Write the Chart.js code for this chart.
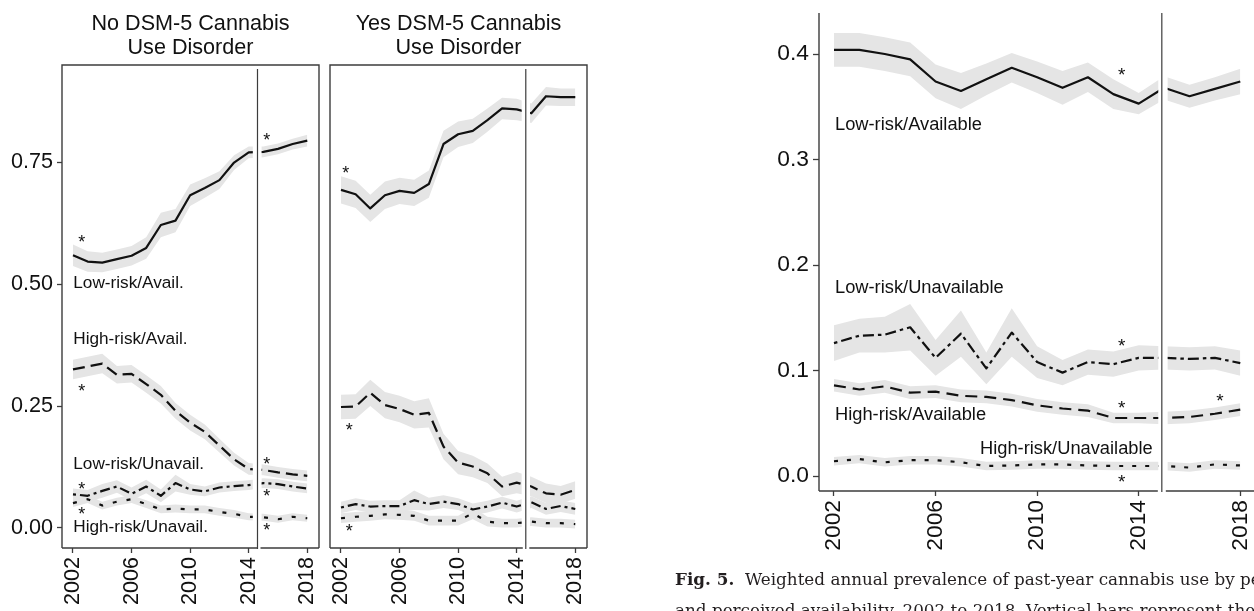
<!DOCTYPE html>
<html>
<head>
<meta charset="utf-8">
<script src="https://cdn.jsdelivr.net/npm/chart.js@4.4.1/dist/chart.umd.min.js"></script>
<style>
  html, body { margin: 0; padding: 0; background: #fff; overflow: hidden; width: 1254px; height: 611px; }
  canvas { position: absolute; top: 0; }
  .cap {
    position: absolute; left: 675px;
    font-family: "DejaVu Serif", "Liberation Serif", serif;
    font-size: 16.8px; line-height: 20px; color: #231f20; white-space: nowrap;
  }
</style>
</head>
<body>
<canvas id="noCud" width="325" height="611" style="left:0px"></canvas>
<canvas id="yesCud" width="275" height="611" style="left:325px"></canvas>
<canvas id="allUsers" width="554" height="611" style="left:700px"></canvas>
<div class="cap" style="top:569px"><b>Fig. 5.</b>&nbsp; Weighted annual prevalence of past-year cannabis use by perceived risk</div>
<div class="cap" style="top:600px">and perceived availability, 2002 to 2018. Vertical bars represent the</div>
<script>
// Survey years and axis ticks
const years = [2002, 2003, 2004, 2005, 2006, 2007, 2008, 2009, 2010, 2011, 2012, 2013, 2014, 2015, 2016, 2017, 2018];
const xTicks = [2002, 2006, 2010, 2014, 2018];
const yTicksCud = [0, 0.25, 0.5, 0.75];
const yTicksAll = [0, 0.1, 0.2, 0.3, 0.4];

// Past-year users without DSM-5 cannabis use disorder (prevalence and 95% margin)
const noCudLowAvail      = [0.559, 0.546, 0.544, 0.551, 0.558, 0.574, 0.621, 0.630, 0.682, 0.697, 0.713, 0.749, 0.770, 0.771, 0.777, 0.787, 0.794];
const noCudLowAvailMoe   = [0.022, 0.021, 0.020, 0.020, 0.020, 0.022, 0.025, 0.024, 0.022, 0.020, 0.018, 0.015, 0.012, 0.011, 0.011, 0.011, 0.012];
const noCudHighAvail     = [0.325, 0.331, 0.337, 0.314, 0.316, 0.295, 0.273, 0.240, 0.216, 0.197, 0.169, 0.141, 0.121, 0.119, 0.114, 0.110, 0.107];
const noCudHighAvailMoe  = [0.020, 0.020, 0.020, 0.018, 0.018, 0.018, 0.018, 0.016, 0.016, 0.015, 0.014, 0.013, 0.012, 0.011, 0.011, 0.011, 0.011];
const noCudLowUnavail    = [0.069, 0.066, 0.076, 0.085, 0.070, 0.085, 0.066, 0.092, 0.079, 0.075, 0.083, 0.086, 0.088, 0.092, 0.090, 0.085, 0.081];
const noCudLowUnavailMoe = [0.012, 0.012, 0.014, 0.013, 0.013, 0.014, 0.013, 0.017, 0.011, 0.010, 0.010, 0.010, 0.010, 0.010, 0.010, 0.010, 0.010];
const noCudHighUnavail   = [0.051, 0.059, 0.046, 0.054, 0.059, 0.049, 0.038, 0.040, 0.038, 0.038, 0.033, 0.029, 0.023, 0.022, 0.018, 0.023, 0.020];
const noCudHighUnavailMoe= [0.008, 0.008, 0.008, 0.008, 0.008, 0.008, 0.008, 0.008, 0.008, 0.008, 0.008, 0.008, 0.007, 0.007, 0.007, 0.007, 0.007];

// Past-year users with DSM-5 cannabis use disorder
const yesCudLowAvail      = [0.693, 0.684, 0.655, 0.682, 0.691, 0.687, 0.705, 0.787, 0.807, 0.814, 0.836, 0.860, 0.858, 0.850, 0.885, 0.883, 0.883];
const yesCudLowAvailMoe   = [0.028, 0.028, 0.028, 0.028, 0.027, 0.027, 0.028, 0.027, 0.026, 0.025, 0.024, 0.022, 0.022, 0.020, 0.019, 0.018, 0.018];
const yesCudHighAvail     = [0.248, 0.249, 0.277, 0.252, 0.244, 0.232, 0.236, 0.167, 0.134, 0.126, 0.112, 0.085, 0.093, 0.085, 0.071, 0.068, 0.078];
const yesCudHighAvailMoe  = [0.025, 0.025, 0.027, 0.027, 0.027, 0.028, 0.030, 0.026, 0.024, 0.022, 0.020, 0.020, 0.022, 0.020, 0.020, 0.018, 0.018];
const yesCudLowUnavail    = [0.042, 0.049, 0.044, 0.045, 0.045, 0.057, 0.049, 0.054, 0.049, 0.038, 0.044, 0.052, 0.044, 0.053, 0.039, 0.045, 0.039];
const yesCudLowUnavailMoe = [0.012, 0.012, 0.012, 0.012, 0.012, 0.020, 0.013, 0.013, 0.012, 0.012, 0.012, 0.012, 0.012, 0.012, 0.012, 0.012, 0.012];
const yesCudHighUnavail   = [0.020, 0.023, 0.025, 0.028, 0.027, 0.025, 0.015, 0.015, 0.015, 0.030, 0.013, 0.010, 0.010, 0.013, 0.010, 0.010, 0.008];
const yesCudHighUnavailMoe= [0.010, 0.010, 0.010, 0.010, 0.010, 0.010, 0.010, 0.010, 0.010, 0.012, 0.010, 0.009, 0.009, 0.009, 0.009, 0.009, 0.009];

// All respondents
const allLowAvail       = [0.404, 0.404, 0.400, 0.395, 0.374, 0.365, 0.376, 0.387, 0.378, 0.368, 0.378, 0.362, 0.353, 0.368, 0.360, 0.367, 0.374];
const allLowAvailMoe    = [0.016, 0.016, 0.016, 0.016, 0.016, 0.017, 0.015, 0.014, 0.015, 0.016, 0.014, 0.014, 0.010, 0.011, 0.011, 0.011, 0.012];
const allLowUnavail     = [0.126, 0.133, 0.134, 0.141, 0.112, 0.135, 0.102, 0.136, 0.108, 0.098, 0.108, 0.106, 0.112, 0.112, 0.111, 0.112, 0.107];
const allLowUnavailMoe  = [0.017, 0.016, 0.017, 0.022, 0.017, 0.022, 0.015, 0.023, 0.015, 0.012, 0.012, 0.012, 0.012, 0.011, 0.011, 0.011, 0.012];
const allHighAvail      = [0.086, 0.082, 0.085, 0.079, 0.080, 0.076, 0.075, 0.072, 0.067, 0.064, 0.062, 0.055, 0.055, 0.055, 0.056, 0.059, 0.063];
const allHighAvailMoe   = [0.006, 0.006, 0.006, 0.006, 0.006, 0.006, 0.006, 0.006, 0.006, 0.006, 0.006, 0.005, 0.005, 0.006, 0.006, 0.006, 0.006];
const allHighUnavail    = [0.014, 0.016, 0.013, 0.015, 0.015, 0.013, 0.0095, 0.010, 0.011, 0.011, 0.010, 0.0095, 0.0095, 0.0095, 0.008, 0.011, 0.010];
const allHighUnavailMoe = [0.004, 0.004, 0.004, 0.004, 0.004, 0.004, 0.004, 0.004, 0.004, 0.004, 0.004, 0.004, 0.004, 0.004, 0.004, 0.004, 0.004];

// Series labels and significance markers, placed in data coordinates
const noCudLabels = [
  { x: 2002.02, y: 0.501, text: 'Low-risk/Avail.' },
  { x: 2002.02, y: 0.387, text: 'High-risk/Avail.' },
  { x: 2002.02, y: 0.131, text: 'Low-risk/Unavail.' },
  { x: 2002.02, y: 0.001, text: 'High-risk/Unavail.' }
];
const noCudStars = [
  { x: 2002.6, y: 0.594 }, { x: 2002.6, y: 0.288 }, { x: 2002.6, y: 0.088 }, { x: 2002.6, y: 0.035 },
  { x: 2015.23, y: 0.803 }, { x: 2015.23, y: 0.139 }, { x: 2015.23, y: 0.072 }, { x: 2015.23, y: 0.004 }
];
const yesCudStars = [
  { x: 2002.32, y: 0.734 }, { x: 2002.57, y: 0.209 }, { x: 2002.57, y: 0.001 }
];
const allLabels = [
  { x: 2002.04, y: 0.333, text: 'Low-risk/Available' },
  { x: 2002.04, y: 0.178, text: 'Low-risk/Unavailable' },
  { x: 2002.04, y: 0.058, text: 'High-risk/Available' },
  { x: 2007.75, y: 0.0256, text: 'High-risk/Unavailable' }
];
const allStars = [
  { x: 2013.33, y: 0.383 }, { x: 2013.33, y: 0.127 }, { x: 2013.33, y: 0.068 },
  { x: 2013.33, y: -0.002 }, { x: 2017.2, y: 0.0746 }
];

const SANS = '"Liberation Sans", Arial, Helvetica, sans-serif';
const INK = '#111111';
const BAND = '#e5e5e5';
const AXIS = '#3c3c3c';
Chart.defaults.font.family = SANS;

// Ribbon (upper + lower bound filled together) and the estimate line
function seriesDatasets(values, moe, dash, width) {
  const pts = arr => years.map((yr, i) => ({ x: yr, y: arr[i] }));
  const hi = values.map((v, i) => v + moe[i]);
  const lo = values.map((v, i) => v - moe[i]);
  return [
    { data: pts(hi), fill: '+1', backgroundColor: BAND, borderColor: 'rgba(0,0,0,0)', borderWidth: 0, pointRadius: 0, tension: 0, order: 2 },
    { data: pts(lo), fill: false, backgroundColor: BAND, borderColor: 'rgba(0,0,0,0)', borderWidth: 0, pointRadius: 0, tension: 0, order: 2 },
    { data: pts(values), fill: false, borderColor: INK, borderWidth: width, borderDash: dash, borderCapStyle: 'butt',
      borderJoinStyle: 'round', pointRadius: 0, tension: 0, order: 1 }
  ];
}

// Frame, 2014/2015 redesign break, titles, series labels and stars
function decorPlugin(cfg) {
  return {
    id: 'decor',
    beforeDatasetsDraw(chart) {
      const { ctx, chartArea: a, scales: { x } } = chart;
      const l = x.getPixelForValue(cfg.clipFrom);
      const r = x.getPixelForValue(cfg.clipTo);
      ctx.save();
      ctx.beginPath();
      ctx.rect(a.left, a.top, l - a.left, a.bottom - a.top);
      ctx.rect(r, a.top, a.right - r, a.bottom - a.top);
      ctx.clip();
    },
    afterDatasetsDraw(chart) {
      chart.ctx.restore();
    },
    afterDraw(chart) {
      const { ctx, chartArea: a, scales: { x, y } } = chart;
      const bx = x.getPixelForValue(cfg.breakAt);
      ctx.save();
      ctx.strokeStyle = AXIS;
      ctx.lineWidth = 1.4;
      ctx.beginPath();
      if (cfg.box) {
        ctx.moveTo(a.left, a.bottom); ctx.lineTo(a.left, a.top);
        ctx.lineTo(a.right, a.top); ctx.lineTo(a.right, a.bottom);
      } else {
        ctx.moveTo(a.left, a.top); ctx.lineTo(a.left, a.bottom);
      }
      ctx.moveTo(a.left, a.bottom); ctx.lineTo(bx - cfg.axisGapL, a.bottom);
      ctx.moveTo(bx + cfg.axisGapR, a.bottom); ctx.lineTo(a.right, a.bottom);
      ctx.stroke();
      ctx.lineWidth = 1.2;
      ctx.beginPath();
      ctx.moveTo(bx, a.top + cfg.breakInset); ctx.lineTo(bx, a.bottom + 1);
      ctx.stroke();

      ctx.fillStyle = INK;
      if (cfg.title) {
        ctx.font = '21.6px ' + SANS;
        ctx.textAlign = 'center';
        ctx.textBaseline = 'alphabetic';
        const cx = (a.left + a.right) / 2;
        ctx.fillText(cfg.title[0], cx, a.top - 35);
        ctx.fillText(cfg.title[1], cx, a.top - 10.7);
      }
      ctx.font = cfg.labelSize + 'px ' + SANS;
      ctx.textAlign = 'left';
      ctx.textBaseline = 'middle';
      (cfg.labels || []).forEach(lb => {
        ctx.fillText(lb.text, x.getPixelForValue(lb.x), y.getPixelForValue(lb.y));
      });
      ctx.font = cfg.starSize + 'px ' + SANS;
      ctx.textAlign = 'center';
      ctx.textBaseline = 'alphabetic';
      const m = ctx.measureText('*');
      const off = (m.actualBoundingBoxAscent - m.actualBoundingBoxDescent) / 2;
      (cfg.stars || []).forEach(s => {
        ctx.fillText('*', x.getPixelForValue(s.x), y.getPixelForValue(s.y) + off);
      });
      ctx.restore();
    }
  };
}

function makeChart(id, opt) {
  return new Chart(document.getElementById(id), {
    type: 'line',
    data: { datasets: opt.datasets },
    options: {
      responsive: false,
      animation: false,
      devicePixelRatio: 1,
      events: [],
      layout: { padding: opt.padding },
      plugins: { legend: { display: false }, tooltip: { enabled: false }, title: { display: false } },
      scales: {
        x: {
          type: 'linear', min: opt.xMin, max: opt.xMax,
          afterBuildTicks: s => { s.ticks = xTicks.map(v => ({ value: v })); },
          afterFit: s => { s.height = opt.xAxisHeight; s.paddingLeft = 0; s.paddingRight = 0; },
          grid: { display: true, drawOnChartArea: false, drawTicks: true, tickLength: 5, tickColor: AXIS, tickWidth: 1.3 },
          border: { display: false },
          ticks: { autoSkip: false, minRotation: 90, maxRotation: 90, padding: 4, color: INK,
                   font: { size: opt.tickSize }, callback: v => String(v) }
        },
        y: {
          type: 'linear', min: opt.yMin, max: opt.yMax, display: opt.yDisplay,
          afterBuildTicks: s => { s.ticks = opt.yTicks.map(v => ({ value: v })); },
          afterFit: s => { s.width = opt.yAxisWidth; s.paddingTop = 0; s.paddingBottom = 0; },
          grid: { display: true, drawOnChartArea: false, drawTicks: true, tickLength: opt.yTickLength, tickColor: AXIS, tickWidth: 1.3 },
          border: { display: false },
          ticks: { padding: 4, color: INK, font: { size: opt.tickSize }, callback: v => v.toFixed(opt.yDigits) }
        }
      }
    },
    plugins: [decorPlugin(opt.decor)]
  });
}

const LINE_W = 2.2;

makeChart('noCud', {
  datasets: [
    ...seriesDatasets(noCudLowAvail, noCudLowAvailMoe, [], LINE_W),
    ...seriesDatasets(noCudHighAvail, noCudHighAvailMoe, [12, 6], LINE_W),
    ...seriesDatasets(noCudLowUnavail, noCudLowUnavailMoe, [3, 4, 10, 4], LINE_W),
    ...seriesDatasets(noCudHighUnavail, noCudHighUnavailMoe, [4, 10], LINE_W)
  ],
  padding: { left: 0, right: 6, top: 65, bottom: 0 },
  xMin: 2001.25, xMax: 2018.8, xAxisHeight: 63, tickSize: 21.6,
  yMin: -0.041, yMax: 0.949, yTicks: yTicksCud, yDigits: 2, yDisplay: true, yAxisWidth: 62, yTickLength: 5,
  decor: { box: true, breakAt: 2014.6, clipFrom: 2014.28, clipTo: 2014.88, axisGapL: 0, axisGapR: 3, breakInset: 4,
           labelSize: 17.2, starSize: 18,
           title: ['No DSM-5 Cannabis', 'Use Disorder'], labels: noCudLabels, stars: noCudStars }
});

makeChart('yesCud', {
  datasets: [
    ...seriesDatasets(yesCudLowAvail, yesCudLowAvailMoe, [], LINE_W),
    ...seriesDatasets(yesCudHighAvail, yesCudHighAvailMoe, [12, 6], LINE_W),
    ...seriesDatasets(yesCudLowUnavail, yesCudLowUnavailMoe, [3, 4, 10, 4], LINE_W),
    ...seriesDatasets(yesCudHighUnavail, yesCudHighUnavailMoe, [4, 10], LINE_W)
  ],
  padding: { left: 5, right: 13, top: 65, bottom: 0 },
  xMin: 2001.25, xMax: 2018.8, xAxisHeight: 63, tickSize: 21.6,
  yMin: -0.041, yMax: 0.949, yTicks: yTicksCud, yDigits: 2, yDisplay: false, yAxisWidth: 0, yTickLength: 5,
  decor: { box: true, breakAt: 2014.62, clipFrom: 2014.34, clipTo: 2014.91, axisGapL: 3, axisGapR: 3.5, breakInset: 4,
           labelSize: 17.2, starSize: 18,
           title: ['Yes DSM-5 Cannabis', 'Use Disorder'], labels: [], stars: yesCudStars }
});

makeChart('allUsers', {
  datasets: [
    ...seriesDatasets(allLowAvail, allLowAvailMoe, [], LINE_W),
    ...seriesDatasets(allLowUnavail, allLowUnavailMoe, [3.5, 4, 11, 4], LINE_W),
    ...seriesDatasets(allHighAvail, allHighAvailMoe, [12, 7], LINE_W),
    ...seriesDatasets(allHighUnavail, allHighUnavailMoe, [4, 9], LINE_W)
  ],
  padding: { left: 0, right: 0, top: 13, bottom: 0 },
  xMin: 2001.41, xMax: 2018.54, xAxisHeight: 120, tickSize: 22.8,
  yMin: -0.0142, yMax: 0.4389, yTicks: yTicksAll, yDigits: 1, yDisplay: true, yAxisWidth: 119, yTickLength: 6,
  decor: { box: false, breakAt: 2014.91, clipFrom: 2014.77, clipTo: 2015.14, axisGapL: 4, axisGapR: 4, breakInset: 0,
           labelSize: 18.3, starSize: 19,
           labels: allLabels, stars: allStars }
});
</script>
</body>
</html>
